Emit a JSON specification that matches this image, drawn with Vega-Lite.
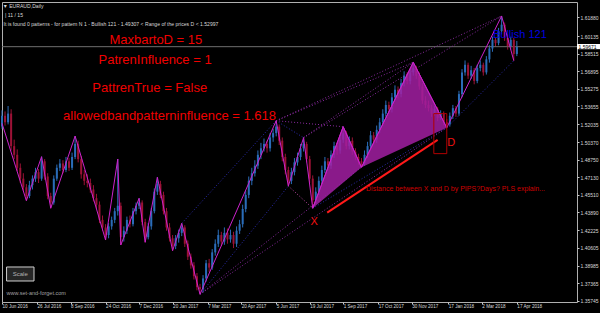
{
"$schema": "https://vega.github.io/schema/vega-lite/v6.json",
"width": 575, "height": 300,
"autosize": {"type": "none"},
"padding": {"left": 2, "top": 2, "right": 23, "bottom": 11},
"background": "#000000",
"config": {"view": {"stroke": "#b0b0b0", "strokeWidth": 1, "fill": "#000000"}, "font": "Liberation Sans",
  "axis": {"labelOverlap": false, "title": null, "grid": false, "domain": false}},
"datasets": {
"candles": [
{"t":"2016-06-10","o":1.518,"h":1.533,"l":1.516,"c":1.528},
{"t":"2016-06-14","o":1.528,"h":1.532,"l":1.519,"c":1.522},
{"t":"2016-06-18","o":1.522,"h":1.537,"l":1.520,"c":1.530},
{"t":"2016-06-22","o":1.530,"h":1.534,"l":1.496,"c":1.500},
{"t":"2016-06-26","o":1.500,"h":1.506,"l":1.488,"c":1.492},
{"t":"2016-06-30","o":1.492,"h":1.497,"l":1.477,"c":1.480},
{"t":"2016-07-04","o":1.480,"h":1.484,"l":1.466,"c":1.470},
{"t":"2016-07-08","o":1.470,"h":1.475,"l":1.459,"c":1.462},
{"t":"2016-07-12","o":1.462,"h":1.465,"l":1.4497,"c":1.454},
{"t":"2016-07-16","o":1.454,"h":1.468,"l":1.452,"c":1.464},
{"t":"2016-07-20","o":1.464,"h":1.473,"l":1.460,"c":1.470},
{"t":"2016-07-24","o":1.470,"h":1.480,"l":1.467,"c":1.476},
{"t":"2016-07-28","o":1.476,"h":1.479,"l":1.466,"c":1.470},
{"t":"2016-08-01","o":1.470,"h":1.4903,"l":1.468,"c":1.486},
{"t":"2016-08-05","o":1.486,"h":1.488,"l":1.469,"c":1.472},
{"t":"2016-08-09","o":1.472,"h":1.475,"l":1.451,"c":1.454},
{"t":"2016-08-13","o":1.454,"h":1.457,"l":1.4427,"c":1.448},
{"t":"2016-08-17","o":1.448,"h":1.473,"l":1.446,"c":1.470},
{"t":"2016-08-21","o":1.470,"h":1.483,"l":1.468,"c":1.480},
{"t":"2016-08-25","o":1.480,"h":1.488,"l":1.477,"c":1.484},
{"t":"2016-08-29","o":1.484,"h":1.487,"l":1.475,"c":1.478},
{"t":"2016-09-02","o":1.478,"h":1.490,"l":1.476,"c":1.486},
{"t":"2016-09-06","o":1.486,"h":1.489,"l":1.477,"c":1.480},
{"t":"2016-09-10","o":1.480,"h":1.494,"l":1.478,"c":1.490},
{"t":"2016-09-14","o":1.490,"h":1.5093,"l":1.488,"c":1.502},
{"t":"2016-09-18","o":1.502,"h":1.505,"l":1.485,"c":1.488},
{"t":"2016-09-22","o":1.488,"h":1.491,"l":1.470,"c":1.474},
{"t":"2016-09-26","o":1.474,"h":1.478,"l":1.464,"c":1.468},
{"t":"2016-09-30","o":1.468,"h":1.474,"l":1.462,"c":1.466},
{"t":"2016-10-04","o":1.466,"h":1.470,"l":1.457,"c":1.460},
{"t":"2016-10-08","o":1.460,"h":1.464,"l":1.449,"c":1.452},
{"t":"2016-10-12","o":1.452,"h":1.456,"l":1.442,"c":1.446},
{"t":"2016-10-16","o":1.446,"h":1.449,"l":1.429,"c":1.432},
{"t":"2016-10-20","o":1.432,"h":1.436,"l":1.422,"c":1.425},
{"t":"2016-10-24","o":1.425,"h":1.428,"l":1.4134,"c":1.418},
{"t":"2016-10-28","o":1.418,"h":1.429,"l":1.415,"c":1.426},
{"t":"2016-11-01","o":1.426,"h":1.435,"l":1.423,"c":1.432},
{"t":"2016-11-05","o":1.432,"h":1.443,"l":1.429,"c":1.440},
{"t":"2016-11-09","o":1.440,"h":1.4881,"l":1.436,"c":1.445},
{"t":"2016-11-13","o":1.445,"h":1.448,"l":1.4088,"c":1.416},
{"t":"2016-11-17","o":1.416,"h":1.426,"l":1.412,"c":1.422},
{"t":"2016-11-21","o":1.422,"h":1.435,"l":1.419,"c":1.432},
{"t":"2016-11-25","o":1.432,"h":1.436,"l":1.425,"c":1.428},
{"t":"2016-11-29","o":1.428,"h":1.443,"l":1.426,"c":1.440},
{"t":"2016-12-03","o":1.440,"h":1.448,"l":1.437,"c":1.445},
{"t":"2016-12-07","o":1.445,"h":1.4519,"l":1.442,"c":1.448},
{"t":"2016-12-11","o":1.448,"h":1.450,"l":1.427,"c":1.430},
{"t":"2016-12-15","o":1.430,"h":1.433,"l":1.4113,"c":1.416},
{"t":"2016-12-19","o":1.416,"h":1.429,"l":1.414,"c":1.426},
{"t":"2016-12-23","o":1.426,"h":1.443,"l":1.423,"c":1.440},
{"t":"2016-12-27","o":1.440,"h":1.461,"l":1.438,"c":1.458},
{"t":"2016-12-31","o":1.458,"h":1.4713,"l":1.455,"c":1.465},
{"t":"2017-01-04","o":1.465,"h":1.468,"l":1.452,"c":1.455},
{"t":"2017-01-08","o":1.455,"h":1.458,"l":1.437,"c":1.440},
{"t":"2017-01-12","o":1.440,"h":1.443,"l":1.422,"c":1.425},
{"t":"2017-01-16","o":1.425,"h":1.429,"l":1.412,"c":1.415},
{"t":"2017-01-20","o":1.415,"h":1.418,"l":1.4036,"c":1.408},
{"t":"2017-01-24","o":1.408,"h":1.418,"l":1.405,"c":1.415},
{"t":"2017-01-28","o":1.415,"h":1.423,"l":1.411,"c":1.420},
{"t":"2017-02-01","o":1.420,"h":1.4288,"l":1.417,"c":1.425},
{"t":"2017-02-05","o":1.425,"h":1.427,"l":1.407,"c":1.410},
{"t":"2017-02-09","o":1.410,"h":1.413,"l":1.395,"c":1.398},
{"t":"2017-02-13","o":1.398,"h":1.401,"l":1.387,"c":1.390},
{"t":"2017-02-17","o":1.390,"h":1.393,"l":1.377,"c":1.380},
{"t":"2017-02-21","o":1.380,"h":1.383,"l":1.367,"c":1.370},
{"t":"2017-02-25","o":1.370,"h":1.373,"l":1.3634,"c":1.368},
{"t":"2017-03-01","o":1.368,"h":1.381,"l":1.365,"c":1.378},
{"t":"2017-03-05","o":1.378,"h":1.395,"l":1.375,"c":1.392},
{"t":"2017-03-09","o":1.392,"h":1.396,"l":1.384,"c":1.388},
{"t":"2017-03-13","o":1.388,"h":1.405,"l":1.386,"c":1.402},
{"t":"2017-03-17","o":1.402,"h":1.414,"l":1.399,"c":1.410},
{"t":"2017-03-21","o":1.410,"h":1.423,"l":1.407,"c":1.418},
{"t":"2017-03-25","o":1.418,"h":1.421,"l":1.408,"c":1.412},
{"t":"2017-03-29","o":1.412,"h":1.425,"l":1.409,"c":1.420},
{"t":"2017-04-02","o":1.420,"h":1.424,"l":1.410,"c":1.414},
{"t":"2017-04-06","o":1.414,"h":1.423,"l":1.411,"c":1.418},
{"t":"2017-04-10","o":1.418,"h":1.421,"l":1.406,"c":1.410},
{"t":"2017-04-14","o":1.410,"h":1.426,"l":1.407,"c":1.422},
{"t":"2017-04-18","o":1.422,"h":1.432,"l":1.419,"c":1.428},
{"t":"2017-04-22","o":1.428,"h":1.446,"l":1.425,"c":1.442},
{"t":"2017-04-26","o":1.442,"h":1.459,"l":1.439,"c":1.455},
{"t":"2017-04-30","o":1.455,"h":1.472,"l":1.452,"c":1.468},
{"t":"2017-05-04","o":1.468,"h":1.480,"l":1.464,"c":1.475},
{"t":"2017-05-08","o":1.475,"h":1.487,"l":1.472,"c":1.482},
{"t":"2017-05-12","o":1.482,"h":1.496,"l":1.479,"c":1.492},
{"t":"2017-05-16","o":1.492,"h":1.503,"l":1.488,"c":1.498},
{"t":"2017-05-20","o":1.498,"h":1.507,"l":1.495,"c":1.502},
{"t":"2017-05-24","o":1.502,"h":1.505,"l":1.494,"c":1.498},
{"t":"2017-05-28","o":1.498,"h":1.512,"l":1.495,"c":1.508},
{"t":"2017-06-01","o":1.508,"h":1.516,"l":1.504,"c":1.512},
{"t":"2017-06-05","o":1.512,"h":1.5234,"l":1.509,"c":1.518},
{"t":"2017-06-09","o":1.518,"h":1.520,"l":1.501,"c":1.505},
{"t":"2017-06-13","o":1.505,"h":1.508,"l":1.486,"c":1.490},
{"t":"2017-06-17","o":1.490,"h":1.493,"l":1.474,"c":1.478},
{"t":"2017-06-21","o":1.478,"h":1.481,"l":1.4632,"c":1.468},
{"t":"2017-06-25","o":1.468,"h":1.480,"l":1.465,"c":1.476},
{"t":"2017-06-29","o":1.476,"h":1.489,"l":1.473,"c":1.485},
{"t":"2017-07-03","o":1.485,"h":1.494,"l":1.482,"c":1.490},
{"t":"2017-07-07","o":1.490,"h":1.502,"l":1.487,"c":1.498},
{"t":"2017-07-11","o":1.498,"h":1.5078,"l":1.495,"c":1.502},
{"t":"2017-07-15","o":1.502,"h":1.504,"l":1.485,"c":1.488},
{"t":"2017-07-19","o":1.488,"h":1.491,"l":1.466,"c":1.470},
{"t":"2017-07-23","o":1.470,"h":1.473,"l":1.4427,"c":1.450},
{"t":"2017-07-27","o":1.450,"h":1.462,"l":1.447,"c":1.458},
{"t":"2017-07-31","o":1.458,"h":1.472,"l":1.455,"c":1.468},
{"t":"2017-08-04","o":1.468,"h":1.482,"l":1.465,"c":1.478},
{"t":"2017-08-08","o":1.478,"h":1.490,"l":1.475,"c":1.486},
{"t":"2017-08-12","o":1.486,"h":1.489,"l":1.478,"c":1.482},
{"t":"2017-08-16","o":1.482,"h":1.496,"l":1.479,"c":1.492},
{"t":"2017-08-20","o":1.492,"h":1.504,"l":1.489,"c":1.500},
{"t":"2017-08-24","o":1.500,"h":1.503,"l":1.492,"c":1.496},
{"t":"2017-08-28","o":1.496,"h":1.510,"l":1.493,"c":1.506},
{"t":"2017-09-01","o":1.506,"h":1.5179,"l":1.503,"c":1.512},
{"t":"2017-09-05","o":1.512,"h":1.514,"l":1.497,"c":1.500},
{"t":"2017-09-09","o":1.500,"h":1.509,"l":1.497,"c":1.505},
{"t":"2017-09-13","o":1.505,"h":1.508,"l":1.492,"c":1.495},
{"t":"2017-09-17","o":1.495,"h":1.498,"l":1.487,"c":1.490},
{"t":"2017-09-21","o":1.490,"h":1.493,"l":1.483,"c":1.486},
{"t":"2017-09-25","o":1.486,"h":1.489,"l":1.4805,"c":1.484},
{"t":"2017-09-29","o":1.484,"h":1.496,"l":1.482,"c":1.492},
{"t":"2017-10-03","o":1.492,"h":1.504,"l":1.489,"c":1.500},
{"t":"2017-10-07","o":1.500,"h":1.514,"l":1.497,"c":1.510},
{"t":"2017-10-11","o":1.510,"h":1.513,"l":1.502,"c":1.506},
{"t":"2017-10-15","o":1.506,"h":1.519,"l":1.503,"c":1.515},
{"t":"2017-10-19","o":1.515,"h":1.526,"l":1.512,"c":1.522},
{"t":"2017-10-23","o":1.522,"h":1.534,"l":1.519,"c":1.530},
{"t":"2017-10-27","o":1.530,"h":1.542,"l":1.527,"c":1.538},
{"t":"2017-10-31","o":1.538,"h":1.541,"l":1.530,"c":1.534},
{"t":"2017-11-04","o":1.534,"h":1.549,"l":1.531,"c":1.545},
{"t":"2017-11-08","o":1.545,"h":1.556,"l":1.542,"c":1.552},
{"t":"2017-11-12","o":1.552,"h":1.555,"l":1.544,"c":1.548},
{"t":"2017-11-16","o":1.548,"h":1.562,"l":1.545,"c":1.558},
{"t":"2017-11-20","o":1.558,"h":1.569,"l":1.555,"c":1.565},
{"t":"2017-11-24","o":1.565,"h":1.568,"l":1.557,"c":1.560},
{"t":"2017-11-28","o":1.560,"h":1.571,"l":1.557,"c":1.568},
{"t":"2017-12-02","o":1.568,"h":1.5773,"l":1.565,"c":1.572},
{"t":"2017-12-06","o":1.572,"h":1.574,"l":1.562,"c":1.565},
{"t":"2017-12-10","o":1.565,"h":1.568,"l":1.552,"c":1.555},
{"t":"2017-12-14","o":1.555,"h":1.558,"l":1.539,"c":1.542},
{"t":"2017-12-18","o":1.542,"h":1.546,"l":1.535,"c":1.538},
{"t":"2017-12-22","o":1.538,"h":1.542,"l":1.532,"c":1.535},
{"t":"2017-12-26","o":1.535,"h":1.538,"l":1.527,"c":1.530},
{"t":"2017-12-30","o":1.530,"h":1.537,"l":1.528,"c":1.534},
{"t":"2018-01-03","o":1.534,"h":1.536,"l":1.523,"c":1.526},
{"t":"2018-01-07","o":1.526,"h":1.533,"l":1.524,"c":1.530},
{"t":"2018-01-11","o":1.530,"h":1.532,"l":1.519,"c":1.522},
{"t":"2018-01-15","o":1.522,"h":1.525,"l":1.517,"c":1.520},
{"t":"2018-01-19","o":1.520,"h":1.531,"l":1.518,"c":1.528},
{"t":"2018-01-23","o":1.528,"h":1.538,"l":1.525,"c":1.535},
{"t":"2018-01-27","o":1.535,"h":1.537,"l":1.527,"c":1.530},
{"t":"2018-01-31","o":1.530,"h":1.551,"l":1.528,"c":1.548},
{"t":"2018-02-04","o":1.548,"h":1.571,"l":1.545,"c":1.568},
{"t":"2018-02-08","o":1.568,"h":1.579,"l":1.565,"c":1.575},
{"t":"2018-02-12","o":1.575,"h":1.577,"l":1.562,"c":1.565},
{"t":"2018-02-16","o":1.565,"h":1.574,"l":1.562,"c":1.570},
{"t":"2018-02-20","o":1.570,"h":1.572,"l":1.557,"c":1.560},
{"t":"2018-02-24","o":1.560,"h":1.575,"l":1.558,"c":1.572},
{"t":"2018-02-28","o":1.572,"h":1.579,"l":1.569,"c":1.575},
{"t":"2018-03-04","o":1.575,"h":1.577,"l":1.565,"c":1.568},
{"t":"2018-03-08","o":1.568,"h":1.583,"l":1.566,"c":1.580},
{"t":"2018-03-12","o":1.580,"h":1.593,"l":1.577,"c":1.590},
{"t":"2018-03-16","o":1.590,"h":1.601,"l":1.587,"c":1.598},
{"t":"2018-03-20","o":1.598,"h":1.600,"l":1.592,"c":1.595},
{"t":"2018-03-24","o":1.595,"h":1.609,"l":1.593,"c":1.606},
{"t":"2018-03-28","o":1.606,"h":1.620,"l":1.603,"c":1.612},
{"t":"2018-04-01","o":1.612,"h":1.614,"l":1.597,"c":1.600},
{"t":"2018-04-05","o":1.600,"h":1.603,"l":1.589,"c":1.592},
{"t":"2018-04-09","o":1.592,"h":1.601,"l":1.589,"c":1.598},
{"t":"2018-04-13","o":1.598,"h":1.600,"l":1.5788,"c":1.585},
{"t":"2018-04-17","o":1.585,"h":1.597,"l":1.583,"c":1.5917}
],
"zig": [
{"t":"2016-06-10","p":1.5210},{"t":"2016-07-12","p":1.4497},{"t":"2016-08-01","p":1.4903},{"t":"2016-08-13","p":1.4427},
{"t":"2016-09-14","p":1.5093},{"t":"2016-10-24","p":1.4134},{"t":"2016-11-09","p":1.4881},{"t":"2016-11-13","p":1.4088},
{"t":"2016-12-07","p":1.4519},{"t":"2016-12-15","p":1.4113},{"t":"2016-12-31","p":1.4713},{"t":"2017-01-20","p":1.4036},
{"t":"2017-02-01","p":1.4288},{"t":"2017-02-25","p":1.3634},{"t":"2017-06-05","p":1.5234},{"t":"2017-06-21","p":1.4632},
{"t":"2017-07-11","p":1.5078},{"t":"2017-07-23","p":1.4427},{"t":"2017-09-01","p":1.5179},{"t":"2017-09-25","p":1.4805},
{"t":"2017-12-02","p":1.5773},{"t":"2018-01-15","p":1.5170},{"t":"2018-03-28","p":1.6200},{"t":"2018-04-13","p":1.5788}
],
"tris": [
{"tri":"XAB","k":1,"t":"2017-07-23","p":1.4427},{"tri":"XAB","k":2,"t":"2017-09-01","p":1.5179},{"tri":"XAB","k":3,"t":"2017-09-25","p":1.4805},
{"tri":"BCD","k":1,"t":"2017-09-25","p":1.4805},{"tri":"BCD","k":2,"t":"2017-12-02","p":1.5773},{"tri":"BCD","k":3,"t":"2018-01-15","p":1.5170}
],
"blueDots": [
{"t":"2017-02-01","p":1.4288,"t2":"2017-06-05","p2":1.5234},
{"t":"2017-06-05","p":1.5234,"t2":"2017-07-11","p2":1.5078},
{"t":"2017-02-25","p":1.3634,"t2":"2017-06-21","p2":1.4632},
{"t":"2017-07-23","p":1.4427,"t2":"2018-01-15","p2":1.5170},
{"t":"2018-01-15","p":1.5170,"t2":"2018-04-13","p2":1.5788}
],
"purpleDots": [
{"t":"2017-06-05","p":1.5234,"t2":"2017-09-01","p2":1.5179},
{"t":"2017-06-05","p":1.5234,"t2":"2017-12-02","p2":1.5773},
{"t":"2017-06-05","p":1.5234,"t2":"2018-03-28","p2":1.6200},
{"t":"2017-07-11","p":1.5078,"t2":"2017-12-02","p2":1.5773},
{"t":"2017-07-11","p":1.5078,"t2":"2018-03-28","p2":1.6200},
{"t":"2017-02-25","p":1.3634,"t2":"2018-01-15","p2":1.5170},
{"t":"2017-02-25","p":1.3634,"t2":"2017-09-25","p2":1.4805}
],
"pinkDots": [
{"t":"2017-06-21","p":1.4632,"t2":"2017-07-23","p2":1.4427}
]
},
"layer": [
{"data": {"name": "candles"},
 "mark": {"type": "rule", "strokeWidth": 1},
 "encoding": {
  "x": {"field": "t", "type": "temporal", "scale": {"type": "utc", "nice": false, "domain": [{"year":2016,"month":6,"date":10,"utc":true},{"year":2018,"month":7,"date":5,"utc":true}]},
   "axis": {"title": null, "domain": false, "grid": false, "tickCount": 100, "tickColor": "#c8c8c8", "tickSize": 2, "labelColor": "#d8d8d8", "labelFont": "Liberation Sans", "labelFontSize": 4.6, "labelAlign": "left", "labelBaseline": "middle", "labelPadding": 2, "labelOverlap": false, "labelFlush": false,
    "labelExpr": "utcFormat(datum.value, '%-d %b %Y')",
    "values": [{"year":2016,"month":6,"date":10,"utc":true},{"year":2016,"month":7,"date":26,"utc":true},{"year":2016,"month":9,"date":8,"utc":true},{"year":2016,"month":10,"date":24,"utc":true},{"year":2016,"month":12,"date":7,"utc":true},{"year":2017,"month":1,"date":20,"utc":true},{"year":2017,"month":3,"date":7,"utc":true},{"year":2017,"month":4,"date":20,"utc":true},{"year":2017,"month":6,"date":5,"utc":true},{"year":2017,"month":7,"date":19,"utc":true},{"year":2017,"month":9,"date":1,"utc":true},{"year":2017,"month":10,"date":17,"utc":true},{"year":2017,"month":11,"date":30,"utc":true},{"year":2018,"month":1,"date":17,"utc":true},{"year":2018,"month":3,"date":2,"utc":true},{"year":2018,"month":4,"date":17,"utc":true}]}},
  "y": {"field": "l", "type": "quantitative", "scale": {"domain": [1.35625, 1.63291], "nice": false, "zero": false},
   "axis": {"orient": "right", "title": null, "domain": false, "grid": false, "tickCount": 100, "tickColor": "#c8c8c8", "tickSize": 2, "labelColor": "#d8d8d8", "labelFont": "Liberation Sans", "labelFontSize": 5, "labelPadding": 1, "labelAlign": "left", "labelOverlap": false, "labelFlush": false, "format": ".5f",
    "values": [1.6188, 1.60135, 1.58515, 1.56895, 1.55275, 1.53655, 1.52035, 1.5037, 1.4875, 1.4713, 1.4551, 1.4389, 1.42225, 1.40605, 1.38985, 1.37365, 1.35745]}},
  "y2": {"field": "h"},
  "color": {"condition": {"test": "datum.c >= datum.o", "value": "#2a6cb8"}, "value": "#9c1236"}}},
{"data": {"values": [{"p": 1.5917}]},
 "mark": {"type": "rule", "stroke": "#6e6e6e", "strokeWidth": 1},
 "encoding": {"y": {"field": "p", "type": "quantitative"}}},
{"data": {"name": "candles"},
 "mark": {"type": "rule", "strokeWidth": 2},
 "encoding": {
  "x": {"field": "t", "type": "temporal"},
  "y": {"field": "o", "type": "quantitative"},
  "y2": {"field": "c"},
  "color": {"condition": {"test": "datum.c >= datum.o", "value": "#2a6cb8"}, "value": "#9c1236"}}},
{"data": {"name": "tris"},
 "mark": {"type": "line", "fill": "#a21ea2", "fillOpacity": 0.85, "stroke": "#c020c0", "strokeWidth": 1},
 "encoding": {
  "x": {"field": "t", "type": "temporal"},
  "y": {"field": "p", "type": "quantitative"},
  "detail": {"field": "tri"},
  "order": {"field": "k"}}},
{"data": {"name": "blueDots"},
 "mark": {"type": "rule", "stroke": "#2c2cb0", "strokeWidth": 1, "strokeDash": [1, 2]},
 "encoding": {"x": {"field": "t", "type": "temporal"}, "y": {"field": "p", "type": "quantitative"}, "x2": {"field": "t2"}, "y2": {"field": "p2"}}},
{"data": {"name": "purpleDots"},
 "mark": {"type": "rule", "stroke": "#8a2aa0", "strokeWidth": 1, "strokeDash": [1, 2]},
 "encoding": {"x": {"field": "t", "type": "temporal"}, "y": {"field": "p", "type": "quantitative"}, "x2": {"field": "t2"}, "y2": {"field": "p2"}}},
{"data": {"name": "pinkDots"},
 "mark": {"type": "rule", "stroke": "#c04aa8", "strokeWidth": 1, "strokeDash": [1, 2]},
 "encoding": {"x": {"field": "t", "type": "temporal"}, "y": {"field": "p", "type": "quantitative"}, "x2": {"field": "t2"}, "y2": {"field": "p2"}}},
{"data": {"name": "zig"},
 "mark": {"type": "line", "stroke": "#cc22cc", "strokeWidth": 1},
 "encoding": {"x": {"field": "t", "type": "temporal"}, "y": {"field": "p", "type": "quantitative"}}},
{"data": {"values": [{"t": "2017-08-11", "p": 1.4386, "t2": "2018-01-03", "p2": 1.5057}]},
 "mark": {"type": "rule", "stroke": "#ff1a1a", "strokeWidth": 2},
 "encoding": {"x": {"field": "t", "type": "temporal"}, "y": {"field": "p", "type": "quantitative"}, "x2": {"field": "t2"}, "y2": {"field": "p2"}}},
{"data": {"values": [{"t": "2017-12-29", "t2": "2018-01-15", "lo": 1.49307, "hi": 1.52997}]},
 "mark": {"type": "rect", "fill": null, "fillOpacity": 0, "stroke": "#b00000", "strokeWidth": 1},
 "encoding": {"x": {"field": "t", "type": "temporal"}, "x2": {"field": "t2"}, "y": {"field": "lo", "type": "quantitative"}, "y2": {"field": "hi"}}},
{"data": {"values": [{"t": "2018-07-05", "t2": "2018-08-06", "lo": 1.5894, "hi": 1.5942}]},
 "mark": {"type": "rect", "fill": "#ffffff", "clip": false},
 "encoding": {"x": {"field": "t", "type": "temporal"}, "x2": {"field": "t2"}, "y": {"field": "lo", "type": "quantitative"}, "y2": {"field": "hi"}}},
{"data": {"values": [{"t": "2018-07-07", "p": 1.5917, "txt": "1.59671"}]},
 "mark": {"type": "text", "color": "#000000", "font": "Liberation Sans", "fontSize": 5, "align": "left", "baseline": "middle", "clip": false},
 "encoding": {"x": {"field": "t", "type": "temporal"}, "y": {"field": "p", "type": "quantitative"}, "text": {"field": "txt"}}},
{"data": {"values": [
  {"t": "2016-12-29", "p": 1.59787, "txt": "MaxbartoD = 15"},
  {"t": "2016-12-28", "p": 1.57942, "txt": "PatrenInfluence = 1"},
  {"t": "2016-12-21", "p": 1.55333, "txt": "PattrenTrue = False"},
  {"t": "2017-01-16", "p": 1.52778, "txt": "allowedbandpatterninfluence = 1.618"}]},
 "mark": {"type": "text", "color": "#f00000", "font": "Liberation Sans", "fontSize": 13, "align": "center", "baseline": "middle"},
 "encoding": {"x": {"field": "t", "type": "temporal"}, "y": {"field": "p", "type": "quantitative"}, "text": {"field": "txt"}}},
{"data": {"values": [{"t": "2018-04-21", "p": 1.60248, "txt": "Bullish 121"}]},
 "mark": {"type": "text", "color": "#0000e0", "font": "Liberation Sans", "fontSize": 11, "align": "center", "baseline": "middle"},
 "encoding": {"x": {"field": "t", "type": "temporal"}, "y": {"field": "p", "type": "quantitative"}, "text": {"field": "txt"}}},
{"data": {"values": [{"t": "2017-07-25", "p": 1.4303, "txt": "X"}, {"t": "2018-01-21", "p": 1.50316, "txt": "D"}]},
 "mark": {"type": "text", "color": "#f01010", "font": "Liberation Sans", "fontSize": 11, "align": "center", "baseline": "middle"},
 "encoding": {"x": {"field": "t", "type": "temporal"}, "y": {"field": "p", "type": "quantitative"}, "text": {"field": "txt"}}},
{"data": {"values": [{"t": "2017-10-01", "p": 1.4602, "txt": "Distance between X and D by PIPS?Days? PLS explain..."}]},
 "mark": {"type": "text", "color": "#d00000", "font": "Liberation Sans", "fontSize": 7, "align": "left", "baseline": "middle"},
 "encoding": {"x": {"field": "t", "type": "temporal"}, "y": {"field": "p", "type": "quantitative"}, "text": {"field": "txt"}}},
{"data": {"values": [
  {"t": "2016-06-11", "p": 1.6295, "txt": "▼ EURAUD,Daily"},
  {"t": "2016-06-14", "p": 1.62092, "txt": "| 11 / 15"},
  {"t": "2016-06-12", "p": 1.61235, "txt": "It is found 0 patterns  -  for pattern N 1 - Bullish 121  - 1.49307 < Range of the prices D < 1.52997"}]},
 "mark": {"type": "text", "color": "#d8d8d8", "font": "Liberation Sans", "fontSize": 5.1, "align": "left", "baseline": "middle"},
 "encoding": {"x": {"field": "t", "type": "temporal"}, "y": {"field": "p", "type": "quantitative"}, "text": {"field": "txt"}}},
{"data": {"values": [{"t": "2016-06-16", "p": 1.36484, "txt": "www.set-and-forget.com"}]},
 "mark": {"type": "text", "color": "#a0a0a0", "font": "Liberation Sans", "fontSize": 5.5, "align": "left", "baseline": "middle"},
 "encoding": {"x": {"field": "t", "type": "temporal"}, "y": {"field": "p", "type": "quantitative"}, "text": {"field": "txt"}}},
{"data": {"values": [{"t": "2016-06-16", "t2": "2016-07-22", "lo": 1.37562, "hi": 1.38853}]},
 "mark": {"type": "rect", "fill": "#262626", "stroke": "#d0d0d0", "strokeWidth": 1},
 "encoding": {"x": {"field": "t", "type": "temporal"}, "x2": {"field": "t2"}, "y": {"field": "lo", "type": "quantitative"}, "y2": {"field": "hi"}}},
{"data": {"values": [{"t": "2016-07-04", "p": 1.3821, "txt": "Scale"}]},
 "mark": {"type": "text", "color": "#b4b4b4", "font": "Liberation Sans", "fontSize": 6, "align": "center", "baseline": "middle"},
 "encoding": {"x": {"field": "t", "type": "temporal"}, "y": {"field": "p", "type": "quantitative"}, "text": {"field": "txt"}}}
]
}
